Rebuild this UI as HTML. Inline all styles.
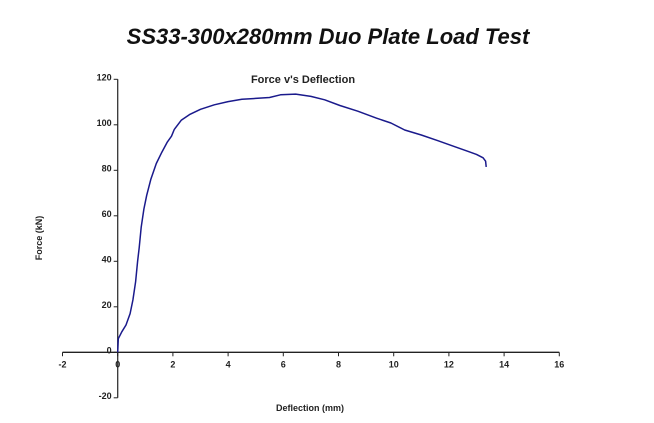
<!DOCTYPE html>
<html><head><meta charset="utf-8"><style>
body{margin:0;background:#fff;}
svg{display:block;font-family:"Liberation Sans",Arial,sans-serif;}
</style></head><body>
<svg id="chart" width="654" height="423" viewBox="0 0 654 423">
<rect x="0" y="0" width="654" height="423" fill="#fff"/>
<text x="328" y="44" text-anchor="middle" font-size="22" font-weight="bold" font-style="italic" fill="#111">SS33-300x280mm Duo Plate Load Test</text>
<text x="303" y="83" text-anchor="middle" font-size="11" font-weight="bold" fill="#222">Force v's Deflection</text>
<text transform="translate(42,238) rotate(-90)" text-anchor="middle" font-size="9" font-weight="bold" fill="#222">Force (kN)</text>
<text x="310" y="411" text-anchor="middle" font-size="9" font-weight="bold" fill="#222">Deflection (mm)</text>
<g id="axes"></g>
<g id="series"></g>
</svg>
<script>
const xTicks=[-2,0,2,4,6,8,10,12,14,16];
const yTicks=[-20,0,20,40,60,80,100,120];
const deflection=[0,0.02,0.15,0.3,0.45,0.55,0.65,0.72,0.78,0.85,0.95,1.05,1.2,1.4,1.6,1.8,1.95,2.05,2.3,2.6,3.0,3.5,4.0,4.5,5.0,5.5,5.9,6.45,7.0,7.5,8.05,8.7,9.38,9.9,10.4,11.0,11.6,12.2,12.7,13.0,13.24,13.33,13.35];
const force=[0,6,9,12,17,23,31,40,46,55,63,69,76,83,88,92.5,95,98,102,104.5,106.8,108.8,110.2,111.2,111.6,112,113.2,113.5,112.5,111,108.5,106,102.9,100.8,97.7,95.5,93,90.4,88.3,87,85.5,84,81.5];
const NS='http://www.w3.org/2000/svg';
const x0=117.7,pxPerX=27.6,y0=352.3,pxPerY=2.275;
function sx(v){return x0+v*pxPerX;}
function sy(v){return y0-v*pxPerY;}
const axes=document.getElementById('axes');
function mk(tag,attrs,parent){const e=document.createElementNS(NS,tag);for(const k in attrs)e.setAttribute(k,attrs[k]);parent.appendChild(e);return e;}
let xa=mk('line',{x1:sx(-2),x2:sx(16),y1:sy(0),y2:sy(0),stroke:'#222','stroke-width':1.3},axes);


let ya=mk('line',{x1:sx(0),x2:sx(0),y1:sy(120),y2:sy(-20),stroke:'#333','stroke-width':1.3},axes);


xTicks.forEach(t=>{
 let l=mk('line',{x1:sx(t),x2:sx(t),y1:sy(0),y2:sy(0)+4,stroke:'#222','stroke-width':1},axes);
 
 
 let tx=mk('text',{x:sx(t),y:sy(0)+15,'text-anchor':'middle','font-size':9,'font-weight':'bold',fill:'#222'},axes);
 tx.textContent=t;
 
 
});
yTicks.forEach(t=>{
 let l=mk('line',{x1:sx(0)-4,x2:sx(0),y1:sy(t),y2:sy(t),stroke:'#222','stroke-width':1},axes);
 
 
 let tx=mk('text',{x:sx(0)-6,y:sy(t)+1,'text-anchor':'end','font-size':9,'font-weight':'bold',fill:'#222'},axes);
 tx.textContent=t;
 
 
});
const d=deflection.map((v,i)=>(i?'L':'M')+sx(v).toFixed(1)+','+sy(force[i]).toFixed(1)).join(' ');
let p=mk('path',{d:d,fill:'none',stroke:'#1a1a8c','stroke-width':1.5,'stroke-linejoin':'round'},document.getElementById('series'));


</script>
</body></html>
